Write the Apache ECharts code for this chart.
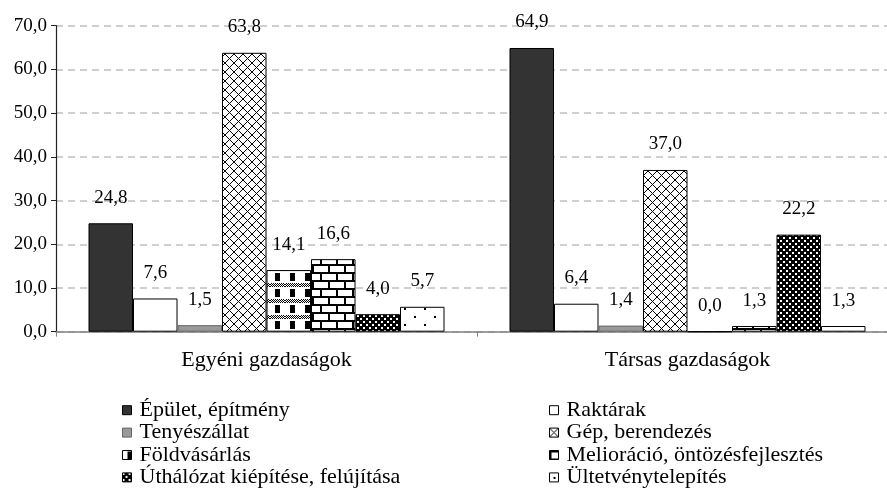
<!DOCTYPE html>
<html>
<head>
<meta charset="utf-8">
<script src="https://cdn.jsdelivr.net/npm/echarts@6/dist/echarts.min.js"></script>
<style>
  html, body { margin: 0; padding: 0; background: #fff; }
  #chart { width: 887px; height: 498px; }
</style>
</head>
<body>
<div id="chart"></div>
<script>
// adatok
const categories = ['Egyéni gazdaságok', 'Társas gazdaságok']
const seriesNames = [
  'Épület, építmény', 'Raktárak', 'Tenyészállat', 'Gép, berendezés',
  'Földvásárlás', 'Melioráció, öntözésfejlesztés', 'Úthálózat kiépítése, felújítása', 'Ültetvénytelepítés'
]
const epulet = [24.8, 64.9]
const raktarak = [7.6, 6.4]
const tenyeszallat = [1.5, 1.4]
const gep = [63.8, 37.0]
const foldvasarlas = [14.1, 0.0]
const melioracio = [16.6, 1.3]
const uthalozat = [4.0, 22.2]
const ultetveny = [5.7, 1.3]
const yTicks = [0, 10, 20, 30, 40, 50, 60, 70]

const seriesData = [epulet, raktarak, tenyeszallat, gep, foldvasarlas, melioracio, uthalozat, ultetveny]

const FONT = 'Liberation Serif'
const fmt = v => Number(v).toFixed(1).replace('.', ',')

// mintázatok canvas-szal
function tile(w, h, draw) {
  const c = document.createElement('canvas')
  c.width = w
  c.height = h
  const ctx = c.getContext('2d')
  ctx.fillStyle = '#fff'
  ctx.fillRect(0, 0, w, h)
  draw(ctx)
  return { image: c, repeat: 'repeat' }
}

const crossHatch = tile(9, 9, ctx => {
  ctx.strokeStyle = '#000'
  ctx.lineWidth = 1
  ctx.beginPath()
  ctx.moveTo(-1, -1); ctx.lineTo(10, 10)
  ctx.moveTo(10, -1); ctx.lineTo(-1, 10)
  ctx.stroke()
})

const checker = tile(15, 16, ctx => {
  ctx.fillStyle = '#000'
  ctx.fillRect(5, 1, 5, 8)
  for (let x = 0; x < 15; x++) {
    for (let y = 11; y < 15; y++) {
      if ((x + y) % 2 === 0) ctx.fillRect(x, y, 1, 1)
    }
  }
})

const brick = tile(16, 16, ctx => {
  ctx.fillStyle = '#000'
  ctx.fillRect(0, 0, 16, 2)
  ctx.fillRect(0, 8, 16, 2)
  ctx.fillRect(0, 0, 2, 8)
  ctx.fillRect(8, 8, 2, 8)
})

const darkDots = tile(6, 6, ctx => {
  ctx.fillStyle = '#000'
  ctx.fillRect(0, 0, 6, 6)
  ctx.fillStyle = '#fff'
  ctx.fillRect(0, 0, 2, 2)
  ctx.fillRect(3, 3, 2, 2)
})

const sparseDots = tile(20, 16, ctx => {
  ctx.fillStyle = '#000'
  ctx.fillRect(4, 4, 2, 2)
  ctx.fillRect(14, 12, 2, 2)
})

const fills = ['#333333', '#ffffff', '#999999', crossHatch, checker, brick, darkDots, sparseDots]
const borders = ['#000', '#000', '#666', '#000', '#000', '#000', '#000', '#000']

const chart = echarts.init(document.getElementById('chart'))

const legendText = { fontFamily: FONT, fontSize: 22, color: '#000', lineHeight: 22.4, padding: [0, 0, 0, 3] }

const option = {
  backgroundColor: '#fff',
  animation: false,
  textStyle: { fontFamily: FONT },
  grid: { left: 56, right: -11, top: 25.7, bottom: 166.3, outerBoundsMode: 'none' },
  legend: [
    {
      data: [seriesNames[0], seriesNames[2], seriesNames[4], seriesNames[6]],
      orient: 'vertical', left: 117, top: 394,
      itemWidth: 9, itemHeight: 9, itemGap: 0,
      icon: 'rect',
      itemStyle: { borderWidth: 1 },
      textStyle: legendText
    },
    {
      data: [seriesNames[1], seriesNames[3], seriesNames[5], seriesNames[7]],
      orient: 'vertical', left: 544, top: 394,
      itemWidth: 9, itemHeight: 9, itemGap: 0,
      icon: 'rect',
      itemStyle: { borderWidth: 1 },
      textStyle: legendText
    }
  ],
  xAxis: {
    type: 'category',
    data: categories,
    axisLine: { lineStyle: { color: '#808080', width: 1.5 } },
    axisTick: { show: true, length: 5, lineStyle: { color: '#808080' } },
    axisLabel: { fontFamily: FONT, fontSize: 22, color: '#000', margin: 18 }
  },
  yAxis: {
    type: 'value',
    min: yTicks[0],
    max: yTicks[yTicks.length - 1],
    interval: 10,
    axisLine: { show: true, lineStyle: { color: '#222', width: 1.2 } },
    axisTick: { show: true, length: 5, lineStyle: { color: '#222' } },
    axisLabel: { fontFamily: FONT, fontSize: 19, color: '#000', margin: 9, formatter: v => fmt(v) },
    splitLine: { show: true, lineStyle: { color: '#c0c0c0', width: 1.5, type: [7, 5] } }
  },
  series: seriesNames.map((name, i) => ({
    name,
    type: 'bar',
    data: seriesData[i],
    barWidth: 44.5,
    barGap: '0%',
    itemStyle: { color: fills[i], borderColor: borders[i], borderWidth: 1 },
    label: {
      show: true,
      position: 'top',
      distance: 16,
      fontFamily: FONT,
      fontSize: 19,
      color: '#000',
      formatter: p => fmt(p.value)
    }
  }))
}

chart.setOption(option)
</script>
</body>
</html>
